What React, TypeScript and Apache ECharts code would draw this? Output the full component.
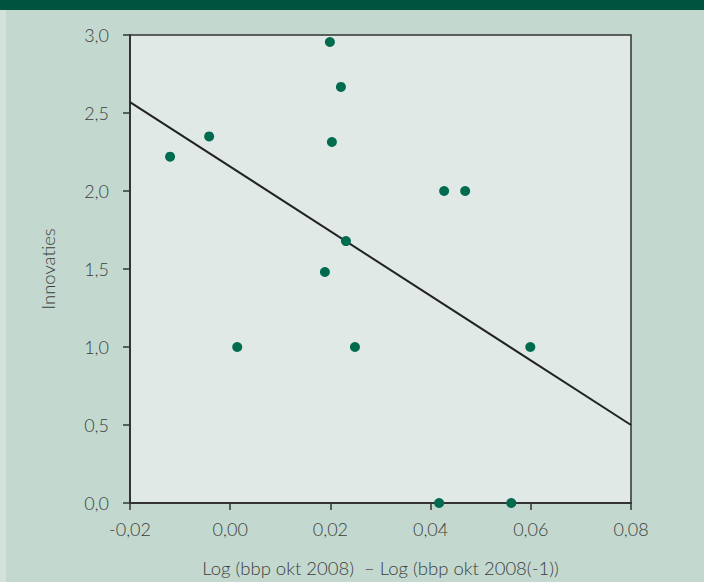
import React, { useEffect, useRef } from "react";
import * as echarts from "echarts";

const pointsX = [-0.012, -0.0042, 0.0014, 0.0199, 0.0221, 0.0203, 0.0189, 0.0231, 0.0249, 0.0427, 0.0469, 0.0599, 0.0417, 0.0561];
const pointsY = [2.22, 2.35, 1.0, 2.955, 2.667, 2.314, 1.481, 1.679, 1.0, 2.0, 2.0, 1.0, 0.0, 0.0];
const trendX = [-0.02, 0.08];
const trendY = [2.57, 0.5];

const xName = "Log (bbp okt 2008)  \u2013 Log (bbp okt 2008(-1))";
const yName = "Innovaties";

const FONT = "Lato";
const TEXT = "#3d3d3d";

export default function App() {
  const ref = useRef<HTMLDivElement>(null);
  useEffect(() => {
    document.body.style.margin = "0";
    const chart = echarts.init(ref.current!, null, { renderer: "svg" });
    chart.setOption({
      animation: false,
      backgroundColor: "#c3d9cf",
      graphic: [
        { type: "rect", left: 0, top: 0, shape: { width: 704, height: 10 }, style: { fill: "#00533e" }, z: 10 },
        { type: "rect", left: 0, top: 10, shape: { width: 6, height: 572 }, style: { fill: "#d3e3dc" }, z: -1 },
      ],
      grid: {
        left: 130,
        right: 73,
        top: 35,
        bottom: 79,
        show: true,
        backgroundColor: "#e0e9e5",
        borderColor: "#333",
        borderWidth: 1.5,
      },
      xAxis: {
        type: "value",
        min: -0.02,
        max: 0.08,
        interval: 0.02,
        name: xName,
        nameLocation: "middle",
        nameGap: 55,
        nameTextStyle: { fontFamily: FONT, fontSize: 18.5, color: TEXT, fontWeight: 300 },
        axisLine: { show: true, onZero: false, lineStyle: { color: "#333", width: 2 } },
        axisTick: { show: true, inside: false, length: 7, lineStyle: { color: "#333", width: 1.5 } },
        axisLabel: {
          margin: 17,
          fontFamily: FONT,
          fontSize: 18,
          color: TEXT,
          fontWeight: 300,
          formatter: (v: number) => v.toFixed(2).replace(".", ","),
        },
        splitLine: { show: false },
      },
      yAxis: {
        type: "value",
        min: 0,
        max: 3,
        interval: 0.5,
        name: yName,
        nameLocation: "middle",
        nameGap: 73,
        nameTextStyle: { fontFamily: FONT, fontSize: 18.5, color: TEXT, fontWeight: 300 },
        axisLine: { show: true, onZero: false, lineStyle: { color: "#333", width: 2 } },
        axisTick: { show: true, inside: false, length: 7, lineStyle: { color: "#333", width: 1.5 } },
        axisLabel: {
          margin: 21,
          fontFamily: FONT,
          fontSize: 18,
          color: TEXT,
          fontWeight: 300,
          formatter: (v: number) => v.toFixed(1).replace(".", ","),
        },
        splitLine: { show: false },
      },
      series: [
        {
          type: "line",
          data: trendX.map((x, i) => [x, trendY[i]]),
          symbol: "none",
          lineStyle: { color: "#222", width: 2 },
          z: 2,
        },
        {
          type: "scatter",
          data: pointsX.map((x, i) => [x, pointsY[i]]),
          symbol: "circle",
          symbolSize: 10,
          itemStyle: { color: "#006b4f", opacity: 1 },
          z: 3,
        },
      ],
    });
    return () => chart.dispose();
  }, []);
  return <div ref={ref} style={{ width: 704, height: 582 }} />;
}
